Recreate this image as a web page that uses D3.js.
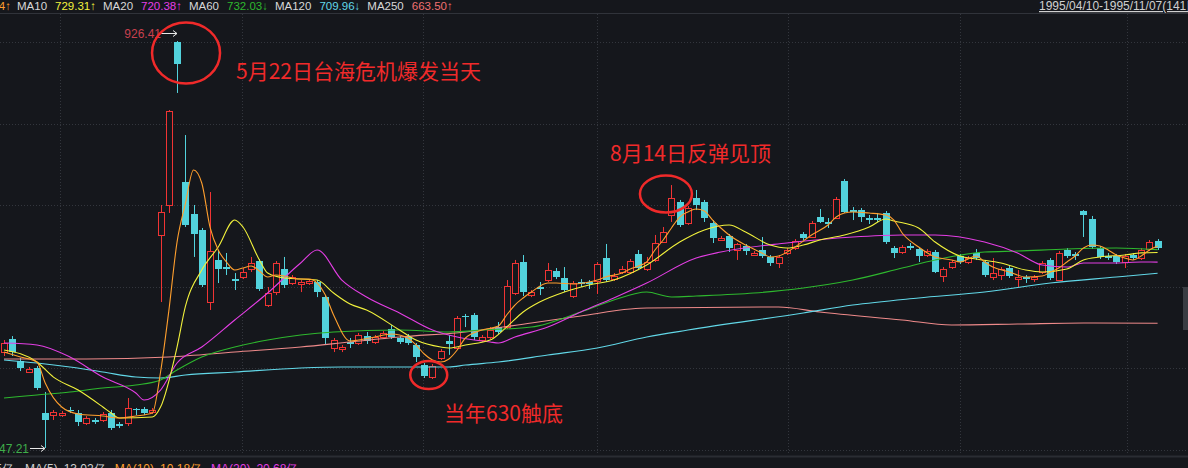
<!DOCTYPE html>
<html><head><meta charset="utf-8">
<script src="https://cdn.jsdelivr.net/npm/d3@7"></script>
<style>
html,body{margin:0;padding:0;background:#15171c;}
svg{display:block;}
</style></head>
<body><svg id="chart" width="1188" height="468"></svg>
<script>
// ---------- DATA ----------
const openP = [636.6,648.8,628.3,618.0,621.7,579.8,577.9,577.9,582.6,579.8,570.5,573.3,573.3,579.8,569.6,570.5,583.5,583.5,580.7,745.7,
773.6,925.5,795.0,765.2,750.3,683.2,722.4,715.8,704.6,706.5,714.0,721.4,680.4,692.5,714.0,700.9,700.0,700.9,701.9,687.8,
640.4,639.5,646.0,645.0,651.5,646.0,650.6,658.1,649.7,650.6,643.2,624.5,613.4,631.1,646.9,640.4,670.2,671.1,647.8,650.6,
659.9,659.9,691.6,720.5,689.7,697.2,703.7,712.1,705.6,688.8,701.9,701.9,702.8,724.2,704.6,711.2,711.2,728.0,714.0,722.4,
739.1,764.3,776.4,756.8,780.1,776.4,756.8,741.0,744.7,731.7,735.4,727.0,731.7,725.2,719.6,728.9,733.5,746.6,743.8,762.4,
757.8,761.5,796.0,768.9,768.9,761.5,761.5,766.2,733.5,729.8,735.4,732.6,727.0,729.8,707.4,715.8,726.1,720.5,728.9,720.5,
706.5,708.4,714.9,704.6,706.5,704.6,711.2,722.4,703.7,731.7,727.9,768.0,760.6,733.5,726.1,726.1,720.5,727.0,724.2,732.6,740.1];
const highP = [647.8,651.5,631.1,622.7,623.6,599.4,582.6,581.7,585.4,582.6,577.0,575.2,580.7,582.6,571.4,593.8,584.5,585.4,584.5,773.6,
862.1,926.41,838.8,773.6,752.2,785.7,731.7,728.9,710.2,714.9,725.2,723.3,697.2,721.4,725.2,708.4,703.7,704.6,703.7,689.7,
649.7,643.2,649.7,654.4,655.3,652.5,656.2,661.8,651.5,653.4,645.0,626.4,625.5,639.4,652.5,670.2,672.1,673.0,652.5,659.9,
664.6,703.7,722.4,727.0,694.4,701.9,719.6,714.9,715.8,702.8,704.6,703.7,720.5,737.3,710.2,716.8,723.3,731.7,725.2,745.7,
753.1,792.2,778.3,772.7,787.6,778.3,759.6,744.7,746.6,738.2,737.3,730.7,743.8,727.0,727.0,733.5,741.9,748.4,758.7,769.9,
761.5,781.1,797.8,771.7,770.8,764.3,766.2,768.0,735.4,736.3,738.2,734.5,732.6,731.7,715.8,722.4,728.0,726.1,732.6,722.4,
724.2,715.8,717.7,713.0,708.4,708.4,721.4,724.2,730.7,733.5,729.8,768.9,763.4,735.4,728.9,728.0,728.0,728.9,733.5,741.0,741.9];
const lowP = [632.9,632.9,618.9,617.1,601.2,547.21,573.3,576.1,579.8,567.7,568.6,569.6,571.4,564.0,565.8,567.7,577.9,577.9,578.9,683.2,
766.2,878.0,753.1,725.2,697.2,675.8,700.9,708.4,694.4,704.6,711.2,693.5,678.6,689.7,696.3,699.1,692.5,699.1,687.8,643.2,
636.6,636.6,640.4,643.2,644.1,644.1,648.8,648.8,644.1,643.2,627.3,612.4,611.5,629.2,634.0,638.5,659.9,647.8,646.0,648.8,
653.4,658.1,689.7,688.8,687.8,689.7,701.9,704.6,692.5,687.0,697.2,695.3,690.7,701.9,702.8,709.3,709.3,713.0,712.1,720.5,
738.2,757.8,753.1,755.0,768.9,757.8,738.2,740.1,729.8,722.4,727.0,726.1,724.2,716.8,714.9,727.0,731.7,741.0,742.9,756.8,
752.2,760.6,766.2,759.6,757.8,755.9,757.8,737.3,724.2,728.0,731.7,720.5,725.2,710.2,701.9,714.0,718.6,718.6,722.4,706.5,
703.7,703.7,705.6,697.2,700.9,701.9,709.3,703.7,702.8,724.2,722.4,743.8,732.6,723.3,722.4,718.6,714.9,722.4,722.4,730.7,731.7];
const closeP = [645.0,636.6,621.7,620.8,603.1,573.3,580.7,579.8,581.7,571.4,575.2,571.4,578.9,565.8,567.7,584.5,582.6,579.8,582.6,767.1,
861.2,905.0,755.0,746.6,699.1,730.7,714.0,714.0,702.8,711.2,719.6,695.3,691.6,719.6,699.1,706.5,701.9,702.8,692.5,649.7,
647.8,641.3,644.1,652.5,646.9,650.6,654.4,650.6,646.0,645.0,632.0,614.3,623.6,637.6,644.1,668.3,669.3,650.6,650.6,657.1,
655.3,698.1,719.6,692.5,692.5,695.3,713.0,706.5,694.4,700.9,700.0,700.0,718.6,703.7,707.4,714.0,721.4,714.9,720.5,738.2,
748.4,780.1,755.0,770.8,773.6,761.5,742.9,742.9,733.5,737.3,730.7,728.9,726.1,719.6,725.2,731.7,740.1,742.9,756.8,757.8,
755.9,779.2,767.1,767.1,762.4,759.6,759.6,739.1,728.9,734.5,733.5,726.1,730.7,711.2,714.0,720.5,720.5,724.2,724.2,708.4,
710.2,714.0,707.4,706.5,704.6,706.5,719.6,705.6,728.9,726.1,726.1,764.3,734.5,725.2,724.2,720.5,726.1,724.2,731.7,739.1,733.5];

// moving averages: [candle index, value]
const ma5 = [[0,636.6],[2,632.0],[4,627.3],[5,607.8],[7,585.4],[9,578.9],[12,577.0],[14,575.1],[16,577.0],[18,579.8],[19,618.0],[20,674.8],
[21,739.1],[22,774.5],[23,806.2],[24,794.1],[25,753.1],[26,731.7],[27,720.5],[28,713.0],[29,714.9],[30,716.8],[31,712.1],[32,706.5],[33,708.4],
[34,707.4],[35,705.6],[36,704.6],[37,704.6],[38,700.9],[39,689.7],[40,671.1],[42,646.9],[43,647.8],[45,650.6],[47,653.4],[49,649.7],[50,643.2],
[51,634.8],[52,629.2],[53,627.3],[54,630.1],[55,638.5],[56,649.7],[58,657.1],[60,660.9],[61,671.1],[62,680.4],[63,687.0],[64,692.5],[66,700.9],
[67,700.9],[69,700.0],[71,701.9],[72,703.7],[73,706.5],[75,710.2],[76,714.0],[77,716.8],[78,720.5],[79,731.7],[80,741.0],[81,752.2],[82,762.4],
[83,767.1],[84,769.9],[85,768.0],[86,759.6],[87,752.2],[88,745.7],[90,736.3],[92,728.9],[93,725.2],[94,726.1],[96,734.5],[98,745.7],[100,755.0],
[101,762.4],[102,766.1],[103,767.1],[105,766.1],[107,764.3],[108,759.6],[109,747.5],[111,734.5],[113,725.2],[115,722.4],[116,720.5],[118,726.1],
[119,720.5],[120,715.8],[122,711.2],[124,706.5],[126,707.4],[127,711.2],[128,714.9],[129,720.5],[130,726.1],[131,733.5],[132,736.3],[133,735.4],
[134,731.7],[135,727.0],[136,724.2],[137,722.4],[138,726.1],[139,731.7],[140,735.4]];
const ma10 = [[0,638.5],[4,627.3],[6,613.3],[9,601.2],[12,585.4],[13,579.8],[14,575.1],[18,576.1],[19,585.4],[21,641.3],[22,678.6],[24,713.0],
[26,734.5],[28,759.6],[29,753.1],[31,722.4],[32,710.2],[34,705.6],[38,703.7],[40,691.6],[42,681.4],[44,675.8],[48,657.1],[50,647.8],[53,641.3],
[54,640.4],[56,643.2],[59,647.8],[61,659.9],[63,673.9],[65,683.2],[68,692.5],[71,699.1],[74,703.7],[78,717.7],[82,739.1],[85,750.3],[88,755.0],
[90,748.4],[93,736.3],[95,733.5],[97,736.3],[99,741.0],[102,745.7],[105,753.1],[107,760.6],[108,758.7],[111,752.2],[113,739.1],[116,726.1],
[118,723.3],[121,719.6],[124,713.0],[126,711.2],[129,714.0],[131,722.4],[133,725.2],[136,727.0],[138,729.0],[140,729.31]];
const ma20 = [[0,645.0],[4,643.2],[8,632.0],[12,613.3],[16,598.5],[17,591.9],[19,601.2],[21,626.4],[24,641.3],[28,666.5],[32,691.6],[36,719.6],
[38,731.7],[41,703.7],[44,687.9],[48,673.0],[52,657.1],[55,650.6],[59,646.0],[60,645.0],[62,650.6],[66,659.9],[70,673.9],[74,687.0],[78,700.9],
[84,724.2],[87,729.8],[95,738.2],[103,743.8],[109,745.7],[113,745.7],[119,739.1],[123,728.9],[126,717.7],[129,715.8],[131,719.6],[135,719.6],
[138,720.5],[140,720.38]];
const ma60 = [[0,593.8],[4,596.6],[8,599.4],[12,603.1],[16,605.9],[19,610.6],[21,619.9],[24,632.0],[28,641.3],[32,647.8],[36,652.5],[40,655.3],
[48,657.1],[54,655.3],[58,657.1],[64,659.9],[70,673.9],[74,685.1],[78,692.5],[81,687.9],[84,688.8],[91,691.6],[97,696.3],[103,703.7],[109,714.9],
[113,722.4],[119,729.8],[123,730.7],[129,732.6],[135,733.5],[140,732.03]];
const ma120 = [[0,629.2],[4,626.4],[8,622.7],[12,618.0],[16,613.3],[19,612.4],[22,615.2],[28,618.0],[36,621.7],[41,622.7],[54,622.7],[56,624.5],
[60,627.3],[66,633.8],[72,640.4],[78,650.6],[83,657.1],[97,673.0],[103,680.4],[111,687.0],[119,692.5],[127,700.9],[135,706.5],[140,709.96]];
const ma250 = [[0,630.1],[10,630.1],[20,632.0],[28,636.6],[36,641.3],[42,646.0],[48,650.6],[56,655.3],[64,663.7],[70,670.2],[76,676.7],[78,677.6],
[94,678.6],[99,673.9],[109,666.5],[115,661.8],[123,662.7],[131,663.7],[140,663.50]];

const maNames = ["MA5","MA10","MA20","MA60","MA120","MA250"];
const maLast  = ["735.44","729.31","720.38","732.03","709.96","663.50"];
const maTrend = ["↑","↑","↑","↓","↓","↑"];
const volNames = ["MA(5)","MA(10)","MA(20)"];
const volLast  = ["13.02亿","10.18亿","20.68亿"];
const rangeLabel = "1995/04/10-1995/11/07(141日)";
const notes = ["5月22日台海危机爆发当天","8月14日反弹见顶","当年630触底"];
const noteIdx = [21, 81, 51];

// ---------- STYLE ----------
const UP = "#f03434", DOWN = "#52d2dc", BG = "#15171c", GRID = "#33363d";
const maColors = ["#ff9f2e","#f2f23c","#e43ee4","#2eb82e","#62d8e8","#ee8a8a"];
const maTextColors = ["#ff9f2e","#f2f23c","#e43ee4","#2eb82e","#62d8e8","#f07070"];
const NOTE = "#f02a2a";
const FONT = "'Liberation Sans', Arial, sans-serif";
const CJK = "'Noto Sans CJK SC', 'Noto Sans', sans-serif";

const W = 1188, H = 468;
const svg = d3.select("#chart");
svg.append("rect").attr("width",W).attr("height",H).attr("fill",BG);

const N = closeP.length;
const x = d3.scalePoint().domain(d3.range(N)).range([4, 1157.6]);
const y = d3.scaleLinear().domain([547.21, 926.41]).range([448, 41]);

// grid
const gridY = d3.range(6).map(k => 42 + k*81.6);
const gridX = [60, 242, 423, 597, 788, 960, 1127];
svg.append("g").selectAll("line").data(gridY).join("line")
  .attr("x1",0).attr("x2",W).attr("y1",d=>Math.round(d)+0.5).attr("y2",d=>Math.round(d)+0.5)
  .attr("stroke",GRID).attr("stroke-dasharray","1,2");
svg.append("g").selectAll("line").data(gridX).join("line")
  .attr("x1",d=>d+0.5).attr("x2",d=>d+0.5).attr("y1",14).attr("y2",455)
  .attr("stroke",GRID).attr("stroke-dasharray","1,2");

// separators
svg.append("line").attr("x1",0).attr("x2",W).attr("y1",13.5).attr("y2",13.5).attr("stroke","#30333a");
svg.append("line").attr("x1",0).attr("x2",W).attr("y1",456.5).attr("y2",456.5).attr("stroke","#2a2d33").attr("stroke-width",2);

svg.append("clipPath").attr("id","plot").append("rect").attr("x",0).attr("y",14).attr("width",W).attr("height",441);
const plot = svg.append("g").attr("clip-path","url(#plot)");

// candles
const candles = d3.range(N).map(i => ({i, o:openP[i], h:highP[i], l:lowP[i], c:closeP[i]}));
const cg = plot.append("g");
cg.selectAll("line").data(candles).join("line")
  .attr("x1",d=>Math.round(x(d.i))+0.5).attr("x2",d=>Math.round(x(d.i))+0.5)
  .attr("y1",d=>y(d.h)).attr("y2",d=>y(d.l))
  .attr("stroke",d=>d.c>=d.o?UP:DOWN).attr("stroke-width",1);
cg.selectAll("rect").data(candles).join("rect")
  .attr("x",d=>d.c>=d.o ? Math.round(x(d.i))-2.5 : Math.round(x(d.i))-3)
  .attr("width",d=>d.c>=d.o ? 6 : 7)
  .attr("y",d=>{const t=Math.round(y(Math.max(d.o,d.c))); return d.c>=d.o? t+0.5 : t;})
  .attr("height",d=>Math.max(Math.round(y(Math.min(d.o,d.c)))-Math.round(y(Math.max(d.o,d.c))), 1))
  .attr("fill",d=>d.c>=d.o?BG:DOWN)
  .attr("stroke",d=>d.c>=d.o?UP:"none").attr("stroke-width",1);

// MA lines
const maList = [ma250, ma120, ma60, ma20, ma10, ma5];
const maCol = [maColors[5], maColors[4], maColors[3], maColors[2], maColors[1], maColors[0]];
const line = d3.line().x(d=>x(d[0])).y(d=>y(d[1])).curve(d3.curveMonotoneX);
plot.append("g").selectAll("path").data(maList).join("path")
  .attr("d",line).attr("fill","none").attr("stroke",(d,k)=>maCol[k]).attr("stroke-width",1.1);

// high / low markers
const hiIdx = highP.indexOf(d3.max(highP)), loIdx = lowP.indexOf(d3.min(lowP));
function arrow(x1,x2,yy){
  svg.append("path").attr("d",`M${x1},${yy}H${x2}M${x2-4},${yy-3}L${x2},${yy}L${x2-4},${yy+3}`)
    .attr("fill","none").attr("stroke","#e8e8e8").attr("stroke-width",1);
}
const hx = Math.round(x(hiIdx)), hy = y(highP[hiIdx]);
arrow(hx-16, hx, Math.round(hy)-7.5);
svg.append("text").attr("x",hx-16).attr("y",hy-3).attr("text-anchor","end")
  .attr("font-family",FONT).attr("font-size",12).attr("fill","#c8404e").text(d3.max(highP).toFixed(2));
const lx = Math.round(x(loIdx)), ly = y(lowP[loIdx]);
arrow(lx-15, lx, Math.round(ly)+0.5);
svg.append("text").attr("x",lx-16).attr("y",ly+5).attr("text-anchor","end")
  .attr("font-family",FONT).attr("font-size",12).attr("fill","#3fae4a").text(d3.min(lowP).toFixed(2));

// annotations: ellipse offsets relative to the noted candle's high
const ell = [[9,12,34,30.5],[-5.5,9,26,18.5],[4.5,12,18.5,14]];
noteIdx.forEach((ci,k)=>{
  const cx = x(ci), cy = y(highP[ci]);
  svg.append("ellipse").attr("cx",cx+ell[k][0]).attr("cy",cy+ell[k][1])
    .attr("rx",ell[k][2]).attr("ry",ell[k][3]).attr("fill","none").attr("stroke",NOTE).attr("stroke-width",2.5);
});
const noteX = [236, 610, 444], noteY = [79, 161, 421];
svg.append("g").selectAll("text").data(notes).join("text")
  .attr("x",(d,k)=>noteX[k]).attr("y",(d,k)=>noteY[k])
  .attr("font-family",CJK).attr("font-size",21).attr("fill",NOTE).text(d=>d);

// top legend
const leg = svg.append("g").attr("font-family",FONT).attr("font-size",11.5);
leg.append("text").attr("x",11).attr("y",10).attr("text-anchor","end").attr("fill",maTextColors[0])
  .text(maNames[0]+" "+maLast[0]+maTrend[0]);
let cx = 17;
for (let k=1;k<maNames.length;k++){
  const t1 = leg.append("text").attr("x",cx).attr("y",10).attr("fill","#d8d8d8").text(maNames[k]);
  cx += t1.node().getComputedTextLength() + 8;
  const t2 = leg.append("text").attr("x",cx).attr("y",10).attr("fill",maTextColors[k]).text(maLast[k]+maTrend[k]);
  cx += t2.node().getComputedTextLength() + 7;
}
leg.append("text").attr("x",1039).attr("y",10).attr("fill","#d0d0d0").attr("text-decoration","underline")
  .attr("font-size",12).text(rangeLabel);

// scrollbar thumb
svg.append("rect").attr("x",1183).attr("y",287).attr("width",5).attr("height",43).attr("fill","#3a3d43");

// bottom volume legend (cut off by the window edge)
const vl = svg.append("g").attr("font-family",FONT).attr("font-size",12);
vl.append("text").attr("x",14).attr("y",473).attr("text-anchor","end").attr("fill","#d0d0d0").text("8.35亿");
const volCols = ["#d0d0d0","#ff9f2e","#e43ee4"];
let vx = 25;
volNames.forEach((n,k)=>{
  const a = vl.append("text").attr("x",vx).attr("y",473).attr("fill",volCols[k]).text(n);
  vx += a.node().getComputedTextLength() + 6;
  const b = vl.append("text").attr("x",vx).attr("y",473).attr("fill",volCols[k]).text(volLast[k]);
  vx += b.node().getComputedTextLength() + 9;
});
</script>
</body></html>
